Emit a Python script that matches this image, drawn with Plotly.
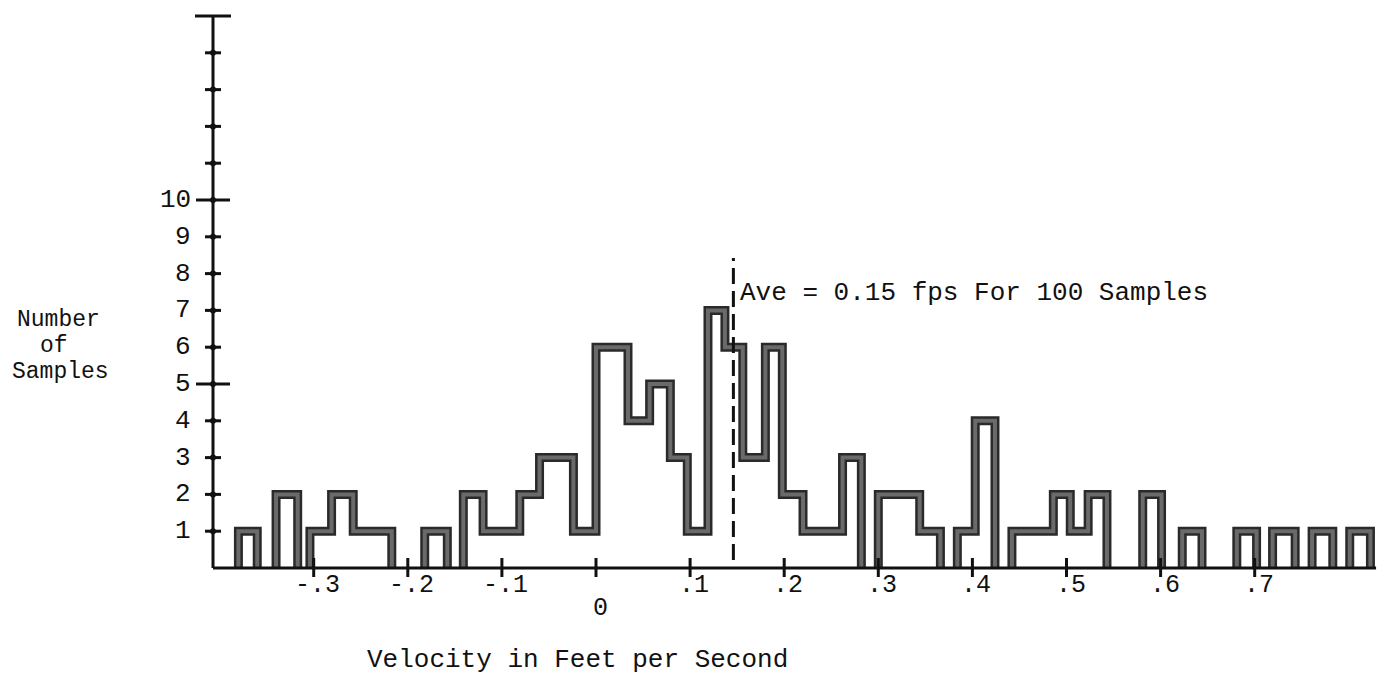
import plotly.graph_objects as go

# ---------------- data ----------------
# bin edges of the hand-drawn step outline (velocity, fps)
edges = [-0.407, -0.380, -0.360, -0.340, -0.317, -0.304, -0.281, -0.258, -0.217,
         -0.182, -0.158, -0.141, -0.120, -0.081, -0.060, -0.024, 0.000, 0.034,
         0.057, 0.079, 0.097, 0.119, 0.137, 0.156, 0.180, 0.198, 0.220, 0.262,
         0.282, 0.300, 0.344, 0.366, 0.384, 0.403, 0.424, 0.442, 0.486, 0.504,
         0.523, 0.543, 0.581, 0.601, 0.623, 0.644, 0.681, 0.702, 0.719, 0.743,
         0.761, 0.783, 0.801, 0.823]
# number of samples in each interval between consecutive edges
counts = [0, 1, 0, 2, 0, 1, 2, 1, 0, 1, 0, 2, 1, 2, 3, 1, 6, 4, 5, 3, 1, 7, 6, 3,
          6, 2, 1, 3, 0, 2, 1, 0, 1, 4, 0, 1, 2, 1, 2, 0, 2, 0, 1, 0, 1, 0, 1, 0,
          1, 0, 1]

x_ticks = [-0.3, -0.2, -0.1, 0.0, 0.1, 0.2, 0.3, 0.4, 0.5, 0.6, 0.7]
x_tick_labels = ["-.3", "-.2", "-.1", "0", ".1", ".2", ".3", ".4", ".5", ".6", ".7"]
y_ticks = [1, 2, 3, 4, 5, 6, 7, 8, 9, 10, 11, 12, 13, 14]
y_tick_labels = ["1", "2", "3", "4", "5", "6", "7", "8", "9", "10"]
y_major = [5, 10]
y_top = 15

average = 0.146
avg_text = "Ave = 0.15 fps For 100 Samples"
x_title = "Velocity in Feet per Second"
y_title = ["Number", "of", "Samples"]

# ---------------- geometry (page pixels) ----------------
PAGE_PAD = 8          # default body margin of the html page
PX_X = 941.0          # pixels per 1 fps
X0_PX = 596.0         # page pixel of v = 0
PX_Y = 36.8           # pixels per sample
Y0_PX = 568.0         # page pixel of baseline
W, H = 1385 - 2 * PAGE_PAD, 688 - 2 * PAGE_PAD

x_min = (PAGE_PAD - X0_PX) / PX_X
x_max = (PAGE_PAD + W - X0_PX) / PX_X
y_max = (Y0_PX - PAGE_PAD) / PX_Y
y_min = (Y0_PX - PAGE_PAD - H) / PX_Y

axis_x = edges[0]
axis_end = 0.829


def dx(px):
    return px / PX_X


def dy(px):
    return px / PX_Y


def page_x(px):
    return (px - X0_PX) / PX_X


def page_y(py):
    return (Y0_PX - py) / PX_Y


# build step outline (separate runs that rise from / return to baseline)
hx, hy = [], []
i = 0
n = len(counts)
while i < n:
    if counts[i] == 0:
        i += 1
        continue
    hx.append(edges[i]); hy.append(0)
    while i < n and counts[i] != 0:
        hx.append(edges[i]); hy.append(counts[i])
        i += 1
    hx.append(edges[i]); hy.append(0)
    hx.append(None); hy.append(None)

INK = "#111111"
FAMILY = "Liberation Mono, Courier New, monospace"
FONT = dict(family=FAMILY, size=26, color=INK)
FONT_TICK = dict(family=FAMILY, size=25, color=INK)
FONT_YTITLE = dict(family=FAMILY, size=23, color=INK)

fig = go.Figure()

# histogram outline: dark edge + grey core
fig.add_trace(go.Scatter(x=hx, y=hy, mode="lines", line=dict(color="#2a2a2a", width=9, shape="hv"),
                         hoverinfo="skip", showlegend=False, connectgaps=False))
fig.add_trace(go.Scatter(x=hx, y=hy, mode="lines", line=dict(color="#6a6a6a", width=4, shape="hv"),
                         hoverinfo="skip", showlegend=False, connectgaps=False))

shapes = []
# axes
shapes.append(dict(type="line", x0=axis_x, x1=axis_end, y0=0, y1=0, line=dict(color=INK, width=3)))
shapes.append(dict(type="line", x0=axis_x, x1=axis_x, y0=0, y1=y_top, line=dict(color=INK, width=3)))
# y ticks
for t in y_ticks:
    half = dx(17) if t in y_major else dx(8)
    shapes.append(dict(type="line", x0=axis_x - half, x1=axis_x + half, y0=t, y1=t,
                       line=dict(color=INK, width=3)))
shapes.append(dict(type="line", x0=axis_x - dx(18), x1=axis_x + dx(18), y0=y_top, y1=y_top,
                   line=dict(color=INK, width=3)))
# x ticks
for t in x_ticks:
    shapes.append(dict(type="line", x0=t, x1=t, y0=-dy(9), y1=dy(10), line=dict(color=INK, width=3)))
# average dashed line
shapes.append(dict(type="line", x0=average, x1=average, y0=dy(8), y1=dy(310),
                   line=dict(color=INK, width=3, dash="16px,7px")))

# tick dots on the y axis
fig.add_trace(go.Scatter(x=[axis_x] * len(y_ticks), y=y_ticks, mode="markers",
                         marker=dict(color=INK, size=6), hoverinfo="skip", showlegend=False))

annotations = []
for t, lab in zip(y_ticks, y_tick_labels):
    annotations.append(dict(x=axis_x - dx(20), y=t, text=lab, showarrow=False,
                            xanchor="right", yanchor="middle", font=FONT))
for t, lab in zip(x_ticks, x_tick_labels):
    ypos = page_y(608) if lab == "0" else page_y(585)
    annotations.append(dict(x=t + dx(4), y=ypos, text=lab, showarrow=False,
                            xanchor="center", yanchor="middle", font=FONT_TICK))
annotations.append(dict(x=page_x(577), y=page_y(660), text=x_title, showarrow=False,
                        xanchor="center", yanchor="middle", font=FONT))
for k, (line, cx) in enumerate(zip(y_title, [58, 54, 60])):
    annotations.append(dict(x=page_x(cx), y=page_y(320 + 26 * k), text=line,
                            showarrow=False, xanchor="center", yanchor="middle", font=FONT_YTITLE))
annotations.append(dict(x=average + dx(5), y=page_y(293), text=avg_text, showarrow=False,
                        xanchor="left", yanchor="middle", font=FONT))

fig.update_layout(
    width=W, height=H,
    margin=dict(l=0, r=0, t=0, b=0),
    paper_bgcolor="white", plot_bgcolor="white",
    xaxis=dict(range=[x_min, x_max], visible=False, fixedrange=True),
    yaxis=dict(range=[y_min, y_max], visible=False, fixedrange=True),
    shapes=shapes, annotations=annotations, showlegend=False,
)

fig.write_html("out.html")
